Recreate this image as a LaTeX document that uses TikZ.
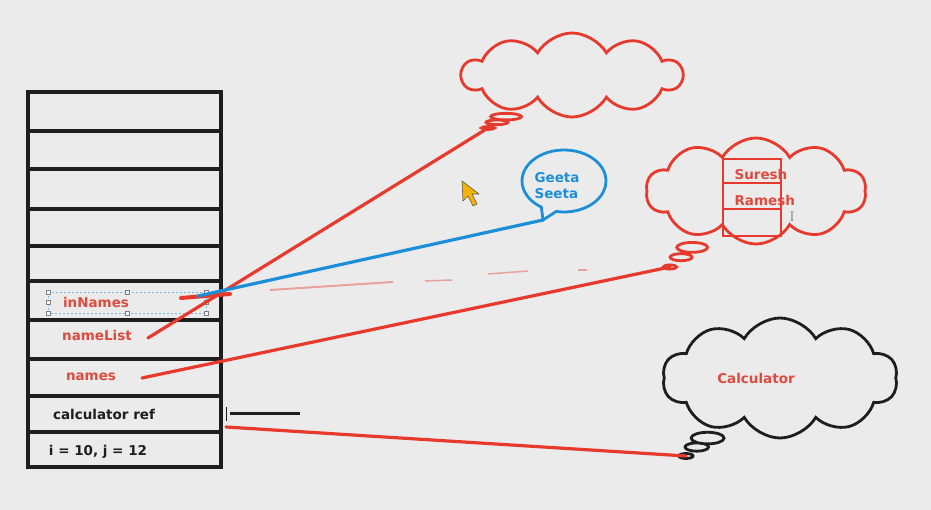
\documentclass[tikz,border=0pt]{standalone}
\usepackage{fontspec}
\setsansfont{DejaVu Sans}
\usepackage{tikz}
\usetikzlibrary{positioning, shapes.symbols, shapes.callouts, shapes.geometric}
\definecolor{pagebg}{HTML}{EBEBEB}
\definecolor{penred}{HTML}{E8392D}
\definecolor{textred}{HTML}{DF4A3F}
\definecolor{penblue}{HTML}{1C8FD8}
\definecolor{inkdark}{HTML}{1E1E1E}
\definecolor{fadedred}{HTML}{E6A39E}
\definecolor{cursoryellow}{HTML}{F4B400}

\begin{document}
\begin{tikzpicture}[x=1pt, y=-1pt,
    lbl/.style={font=\sffamily\bfseries\fontsize{13.5}{16}\selectfont},
    refline/.style={penred, line width=3.2pt, line cap=round},
    cellbox/.style={draw=penred, line width=2.8pt, minimum width=58pt, inner sep=0pt},
    thought/.style={cloud callout, draw=#1, line width=2.8pt, cloud puffs=10,
      cloud puff arc=120, cloud ignores aspect, inner sep=0pt,
      callout pointer start size=.18 of callout,
      callout pointer end size=.06 of callout, callout pointer segments=3}]
  \fill[pagebg] (0,0) rectangle (931,510);

  % stack frame
  \draw[inkdark, line width=3.2pt] (28,92) rectangle (221,467);
  \foreach \y in {131,169,209,246,281,320,359,396,432}
    \draw[inkdark, line width=3.2pt] (28,\y) -- (221,\y);

  % row labels
  \node[lbl, text=textred] (innames) at (96,302) {inNames};
  \node[lbl, text=textred] (namelist) at (97,335) {nameList};
  \node[lbl, text=textred] (names) at (91,377) {names};
  \node[lbl, text=inkdark] (calcref) at (104,414) {calculator ref};
  \node[lbl, text=inkdark] (ivals) at (98,452) {i = 10, j = 12};

  % selection frame round inNames
  \draw[penblue!60, line width=.7pt, dash pattern=on 2pt off 2pt] (48,292) rectangle (206,313);
  \foreach \p in {(48,292),(127,292),(206,292),(48,313),(127,313),(206,313),(48,302.5),(206,302.5)}
    \draw[gray, fill=white, line width=.6pt] \p ++(-2,-2) rectangle ++(4,4);

  \coordinate (innamespt) at (181,298);
  \coordinate (innamesend) at (230,294);
  \coordinate (bluept) at (198,296);
  \coordinate (namelistpt) at (148,338);
  \coordinate (namespt) at (142,378);
  \coordinate (calcpt) at (226,427);

  % tips of the heap objects
  \coordinate (emptytip) at (488,128);
  \coordinate (listtip) at (670,267);
  \coordinate (calctip) at (686,456);
  \coordinate (arrtip) at (543,220);

  % heap objects
  \node[thought=penred, minimum width=220pt, minimum height=84pt,
        callout absolute pointer={(emptytip)}] (emptyobj) at (572,75) {};
  \node[thought=penred, minimum width=220pt, minimum height=106pt,
        callout absolute pointer={(listtip)}] (listobj) at (756,191) {};
  \node[thought=inkdark, minimum width=235pt, minimum height=120pt,
        callout absolute pointer={(calctip)}] (calcobj) at (780,378) {};
  \node[ellipse callout, draw=penblue, line width=2.8pt, minimum width=84pt,
        minimum height=62pt, callout pointer arc=22,
        callout absolute pointer={(arrtip)}] (arrobj) at (564,181) {};

  \node[lbl, text=penblue, align=left] (geeta) at (557,186) {Geeta\\Seeta};
  \node[lbl, text=textred] (calctext) at (756,378) {Calculator};

  % array inside the list object
  \node[cellbox, minimum height=24pt] (cell1) at (752,171) {};
  \node[cellbox, minimum height=26pt] (cell2) at (752,196) {};
  \node[cellbox, minimum height=27pt] (cell3) at (752,222.5) {};
  \node[lbl, text=textred, anchor=west] (suresh) at (731,174) {Suresh};
  \node[lbl, text=textred, anchor=west] (ramesh) at (731,200) {Ramesh};
  \node[text=gray, font=\fontsize{14}{14}\selectfont] (ibeam) at (792,217) {I};

  % references
  \draw[refline, line width=4pt] (innamespt) -- (innamesend);
  \draw[refline] (namelistpt) -- (emptytip);
  \draw[penblue, line width=3.2pt, line cap=round] (bluept) -- (arrtip);
  \draw[refline] (namespt) -- (listtip);
  \draw[refline] (calcpt) -- (calctip);

  % erased strokes
  \draw[fadedred, line width=2pt] (270,290) -- (393,282);
  \draw[fadedred, line width=1.5pt] (425,281) -- (452,280);
  \draw[fadedred, line width=1.5pt] (488,274) -- (528,271);
  \draw[fadedred, line width=1.2pt] (578,270) -- (587,270);

  % null mark beside calculator ref
  \draw[inkdark, line width=3pt] (230,413) -- (300,413);
  \draw[inkdark, line width=1pt] (226,407) -- (226,421);

  % mouse pointer
  \draw[gray!70!black, fill=cursoryellow, line width=.6pt, line join=round]
    (462,181) -- (463,201) -- (468,196) -- (473,206) -- (477,204) -- (472,194) -- (479,194) -- cycle;
\end{tikzpicture}
\end{document}
